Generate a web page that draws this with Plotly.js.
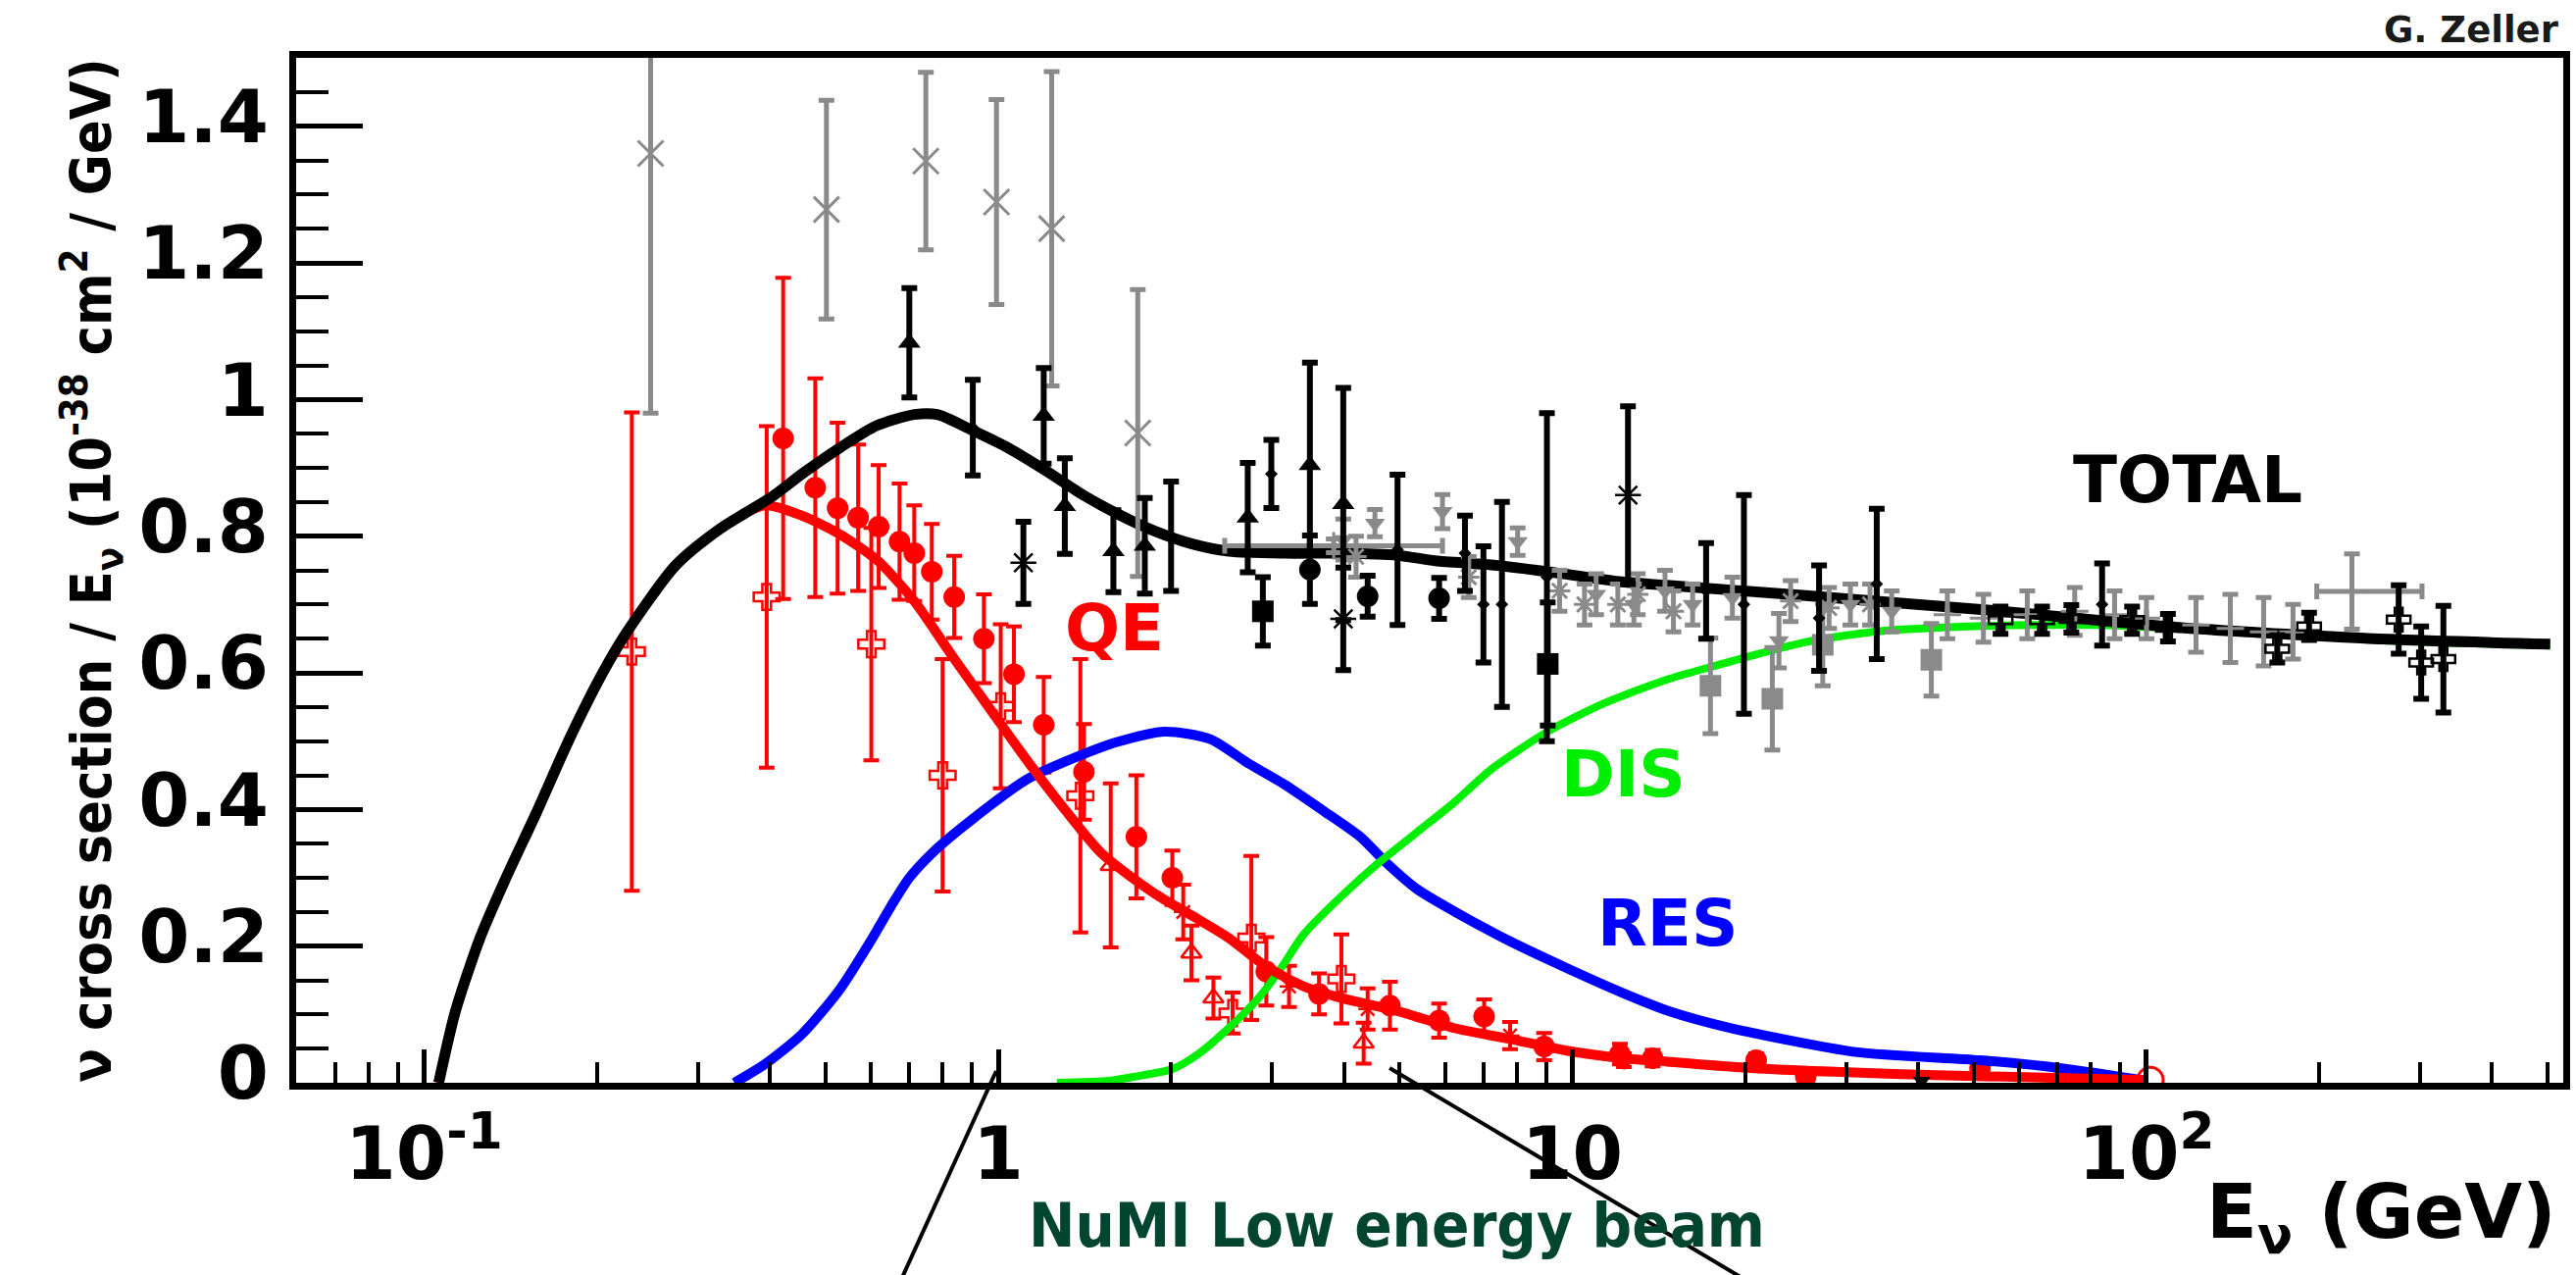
<!DOCTYPE html>
<html>
<head>
<meta charset="utf-8">
<script src="https://cdn.plot.ly/plotly-3.0.1.min.js"></script>
<style>html,body{margin:0;padding:0;background:#fff;}#chart{width:2627px;height:1300px;}</style>
</head>
<body>
<div id="chart"></div>
<script>
// ---------- model curves (E in GeV, sigma/E in 1e-38 cm^2/GeV) ----------
const totalE = [0.106,0.1133,0.125,0.138,0.157,0.179,0.204,0.224,0.274,0.328,0.404,0.455,0.529,0.615,0.714,0.783,0.896,1.042,1.21,1.407,1.636,1.866,2.17,2.52,3.16,3.96,4.96,5.77,7.23,9.06,12.2,14.6,25.5,54.1,115,264,505];
const totalY = [0,0.104,0.211,0.295,0.396,0.503,0.598,0.656,0.757,0.811,0.858,0.891,0.929,0.962,0.978,0.978,0.956,0.929,0.896,0.860,0.830,0.808,0.789,0.778,0.775,0.775,0.772,0.764,0.758,0.748,0.733,0.728,0.713,0.691,0.666,0.649,0.642];

const qeE = [0.106,0.1133,0.125,0.138,0.157,0.179,0.204,0.224,0.274,0.328,0.392,0.455,0.529,0.615,0.714,0.831,0.966,1.122,1.306,1.517,1.865,2.17,2.52,2.93,3.41,3.96,4.96,6.22,7.79,9.77,12.2,14.6,20,40,70,100];
const qeY = [0,0.104,0.211,0.295,0.396,0.503,0.598,0.656,0.757,0.811,0.845,0.830,0.803,0.765,0.705,0.625,0.548,0.472,0.400,0.335,0.278,0.245,0.212,0.170,0.141,0.124,0.105,0.080,0.064,0.047,0.036,0.031,0.022,0.012,0.007,0.004];

const resE = [0.347,0.392,0.455,0.529,0.597,0.650,0.700,0.771,0.896,1.122,1.38,1.60,1.95,2.34,2.72,3.16,3.67,4.27,4.74,5.35,6.22,7.79,9.77,12.2,14.6,18.9,31.1,51.3,71.6,99.8];
const resY = [0.0,0.027,0.071,0.136,0.205,0.258,0.300,0.338,0.384,0.444,0.478,0.498,0.514,0.503,0.468,0.436,0.399,0.360,0.322,0.284,0.251,0.207,0.168,0.132,0.106,0.080,0.045,0.033,0.021,0.003];

const disE = [1.265,1.56,1.73,2.01,2.23,2.52,2.84,3.11,3.41,3.96,4.60,5.35,6.22,7.23,9.06,11.4,14.6,17.5,25.5,34.4,46.5,62.9,84.9,127,264,505];
const disY = [0.0,0.003,0.009,0.020,0.042,0.080,0.124,0.168,0.218,0.273,0.322,0.366,0.410,0.459,0.514,0.556,0.590,0.609,0.645,0.661,0.667,0.670,0.670,0.662,0.647,0.640];

// ---------- QE data (red) ----------
const qeCircE   = [0.422,0.48,0.525,0.570,0.619,0.673,0.714,0.766,0.838,0.944,1.065,1.20,1.41,1.74,2.01,2.93,3.62,4.81,5.86,7.02,8.93,12.1,13.8,20.9,25.5,51.3,71.6];
const qeCircY   = [0.943,0.871,0.841,0.827,0.814,0.792,0.775,0.748,0.711,0.650,0.598,0.524,0.455,0.360,0.300,0.163,0.130,0.113,0.091,0.097,0.053,0.042,0.036,0.033,0.009,0.021,0.006];
const qeCircErr = [0.235,0.16,0.125,0.107,0.09,0.085,0.07,0.07,0.06,0.065,0.07,0.07,0.07,0.09,0.04,0.05,0.03,0.035,0.025,0.025,0.02,0.015,0.012,0.01,0.01,0.01,0.008];

const qeCrossE   = [0.23,0.395,0.601,0.80,1.01,1.39,2.76,3.96,2.56];
const qeCrossY   = [0.631,0.711,0.642,0.450,0.551,0.420,0.212,0.152,0.102];
const qeCrossErr = [0.35,0.25,0.17,0.17,0.12,0.20,0.12,0.065,0.03];

const qeTriE   = [1.57,2.17,2.37,4.33];
const qeTriY   = [0.318,0.190,0.124,0.058];
const qeTriErr = [0.12,0.04,0.03,0.03];

const qeStarE   = [2.10,3.21,4.40,7.79,12.3];
const qeStarY   = [0.250,0.141,0.108,0.069,0.033];
const qeStarErr = [0.04,0.03,0.03,0.02,0.01];

const qeRingE = [101.6];
const qeRingY = [0.004];

// ---------- total data, grey ----------
const grXE   = [0.248,0.502,0.748,0.993,1.239,1.75];
const grXY   = [1.360,1.278,1.349,1.289,1.250,0.951];
const grXErr = [0.38,0.16,0.13,0.15,0.23,0.21];

const grTriE   = [3.99,4.53,5.94,8.03,11.0,12.8,14.5,16.2,19.0,22.9,30.5,36.0];
const grTriY   = [0.795,0.819,0.836,0.792,0.715,0.700,0.720,0.700,0.710,0.647,0.700,0.690];
const grTriErr = [0.03,0.02,0.025,0.02,0.03,0.03,0.03,0.03,0.03,0.04,0.03,0.03];

const grSqE   = [17.4,22.3,27.3,42.2];
const grSqY   = [0.581,0.562,0.641,0.619];
const grSqErr = [0.07,0.075,0.06,0.053];

const grStarE   = [4.2,6.6,9.5,10.5,12.0,13.0,15.0,24.0,28.0,33.0];
const grStarY   = [0.770,0.740,0.720,0.700,0.700,0.715,0.690,0.705,0.695,0.700];
const grStarErr = [0.03,0.03,0.03,0.03,0.03,0.03,0.03,0.03,0.03,0.03];

const grCrossE    = [3.84,45,52,62,75,88,100,122,140,160,180,228];
const grCrossY    = [0.786,0.685,0.680,0.685,0.690,0.685,0.680,0.670,0.665,0.660,0.660,0.719];
const grCrossErr  = [0.01,0.035,0.035,0.035,0.035,0.035,0.03,0.04,0.05,0.05,0.04,0.055];
const grCrossXLo  = [1.36,0,0,0,0,0,0,0,0,0,0,30];
const grCrossXHi  = [2.1,0,0,0,0,0,0,0,0,0,0,74];

// ---------- total data, black ----------
const bkTriE   = [0.70,1.20,1.306,1.587,1.80,2.72,3.49,3.99];
const bkTriY   = [1.083,0.976,0.844,0.778,0.786,0.827,0.904,0.847];
const bkTriErr = [0.08,0.07,0.07,0.06,0.07,0.08,0.15,0.17];

const bkBarE   = [0.903,2.0,2.99,4.96,6.5,7.0,7.54,9.03,17.1,19.9,26.9,33.9,83.7];
const bkBarY   = [0.959,0.80,0.891,0.78,0.775,0.70,0.70,0.74,0.72,0.70,0.68,0.73,0.70];
const bkBarErr = [0.07,0.08,0.05,0.11,0.055,0.085,0.15,0.24,0.07,0.16,0.077,0.11,0.06];

const bkCircE   = [3.49,4.40,5.86];
const bkCircY   = [0.751,0.712,0.709];
const bkCircErr = [0.05,0.03,0.03];

const bkSqE   = [2.89,9.06];
const bkSqY   = [0.690,0.613];
const bkSqErr = [0.05,0.09];

const bkStarE   = [1.106,3.99,12.5];
const bkStarY   = [0.761,0.679,0.860];
const bkStarErr = [0.06,0.075,0.13];

const bkCrossE   = [55.7,65.8,74,94.4,109,169,192,275,301,329];
const bkCrossY   = [0.677,0.677,0.679,0.677,0.666,0.635,0.668,0.678,0.615,0.620];
const bkCrossErr = [0.02,0.02,0.02,0.02,0.02,0.02,0.02,0.05,0.053,0.078];

const bkDownE = [40.6];
const bkDownY = [0.003];

// ---------- axis tick labels and texts ----------
const xTickVals = [0.1,1,10,100];
const xTickText = ['10<sup>-1</sup>','1','10','10<sup>2</sup>'];
const curveLabels = ['TOTAL','QE','DIS','RES'];
const curveLabelE = [118,1.596,12.25,14.62];
const curveLabelY = [0.882,0.665,0.451,0.233];
const curveLabelColor = ['#000000','#ff0000','#00ee00','#0000ff'];

const RED = '#ff0000', GREY = '#8a8a8a', BLACK = '#000000';
const DJ = 'DejaVu Sans, Liberation Sans, Arial, sans-serif';

function errY(arr, color, thick, w) {
  return {type:'data', array:arr, visible:true, color:color, thickness:thick, width:w};
}
function pts(x, y, err, symbol, color, size, lw, extra) {
  const t = {
    type:'scatter', mode:'markers', x:x, y:y, showlegend:false, hoverinfo:'x+y',
    marker:{symbol:symbol, size:size, color:color, line:{color:color, width:lw}},
    error_y: err ? errY(err, color, color===RED?4:(color===GREY?5:6), 8) : undefined
  };
  return Object.assign(t, extra || {});
}
function curve(x, y, color, w) {
  return {type:'scatter', mode:'lines', x:x, y:y, showlegend:false, hoverinfo:'skip',
          line:{color:color, width:w, shape:'spline', smoothing:0.7}};
}

const traces = [
  // red QE data under the curves
  pts(qeCircE, qeCircY, qeCircErr, 'circle', RED, 22, 0),
  pts(qeCrossE, qeCrossY, qeCrossErr, 'cross-open', RED, 22, 2.5),
  pts(qeTriE, qeTriY, qeTriErr, 'triangle-up-open', RED, 18, 2.5),
  pts(qeStarE, qeStarY, qeStarErr, 'asterisk-open', RED, 16, 2.5),
  pts(qeRingE, qeRingY, null, 'circle-open', RED, 26, 3),
  // model curves
  curve(resE, resY, '#0000ff', 10),
  curve(disE, disY, '#00ee00', 8),
  curve(qeE, qeY, RED, 10),
  curve(totalE, totalY, BLACK, 11),
  // grey total data
  pts(grXE, grXY, grXErr, 'x-thin-open', GREY, 26, 3),
  pts(grTriE, grTriY, grTriErr, 'triangle-down', GREY, 18, 0),
  pts(grSqE, grSqY, grSqErr, 'square', GREY, 22, 0),
  pts(grStarE, grStarY, grStarErr, 'asterisk-open', GREY, 18, 3),
  pts(grCrossE, grCrossY, grCrossErr, 'cross-thin-open', GREY, 20, 3,
      {error_x:{type:'data', symmetric:false, array:grCrossXHi, arrayminus:grCrossXLo,
                visible:true, color:GREY, thickness:5, width:8}}),
  // black total data
  pts(bkBarE, bkBarY, bkBarErr, 'diamond', BLACK, 10, 0),
  pts(bkTriE, bkTriY, bkTriErr, 'triangle-up', BLACK, 20, 0),
  pts(bkCircE, bkCircY, bkCircErr, 'circle', BLACK, 22, 0),
  pts(bkSqE, bkSqY, bkSqErr, 'square', BLACK, 22, 0),
  pts(bkStarE, bkStarY, bkStarErr, 'asterisk-open', BLACK, 22, 2.5),
  pts(bkCrossE, bkCrossY, bkCrossErr, 'cross-open', BLACK, 20, 2.5),
  pts(bkDownE, bkDownY, null, 'triangle-down', BLACK, 16, 0)
];

const annotations = curveLabels.map((t, i) => ({
  text:t, x:Math.log10(curveLabelE[i]), y:curveLabelY[i], xref:'x', yref:'y',
  showarrow:false, xanchor:'center', yanchor:'middle',
  font:{family:DJ, size:66, weight:'bold', color:curveLabelColor[i]}
}));
annotations.push(
  {text:'G. Zeller', xref:'paper', yref:'paper', x:0.999, y:1.027, xanchor:'right', yanchor:'middle',
   showarrow:false, font:{family:DJ, size:37, weight:'bold', color:'#1a1a1a'}},
  {text:'E<sub>ν</sub> (GeV)', xref:'paper', yref:'paper', x:0.998, y:-0.131, xanchor:'right', yanchor:'middle',
   showarrow:false, font:{family:DJ, size:76, weight:'bold', color:BLACK}},
  {text:'NuMI Low energy beam', xref:'paper', yref:'paper', x:0.4855, y:-0.1397, xanchor:'center', yanchor:'middle',
   showarrow:false, font:{family:'DejaVu Sans Condensed, Liberation Sans Narrow, sans-serif', size:63, weight:'bold', color:'#004530'}}
);

const layout = {
  width:2627, height:1300,
  margin:{l:302, r:13, t:59, b:196, pad:0},
  paper_bgcolor:'#ffffff', plot_bgcolor:'#ffffff',
  showlegend:false,
  xaxis:{
    type:'log', range:[-1.223, 2.726], showgrid:false, zeroline:false,
    showline:true, linecolor:BLACK, linewidth:7, mirror:true,
    ticks:'inside', ticklen:34, tickwidth:5, tickcolor:BLACK,
    tickmode:'array', tickvals:xTickVals, ticktext:xTickText,
    tickfont:{family:DJ, size:74, weight:'bold', color:BLACK},
    ticklabelstandoff:2,
    minor:{dtick:'D1', ticks:'inside', ticklen:21, tickwidth:4, tickcolor:BLACK, showgrid:false}
  },
  yaxis:{
    range:[0, 1.5], showgrid:false, zeroline:false,
    showline:true, linecolor:BLACK, linewidth:7, mirror:true,
    ticks:'inside', ticklen:68, tickwidth:5, tickcolor:BLACK,
    tick0:0, dtick:0.2,
    tickfont:{family:DJ, size:75, weight:'bold', color:BLACK},
    ticklabelstandoff:6, ticklabelshift:-10,
    minor:{dtick:0.05, ticks:'inside', ticklen:33, tickwidth:4, tickcolor:BLACK, showgrid:false},
    title:{text:'ν cross section / E<sub>ν</sub> (10<sup>-38</sup> cm<sup>2</sup> / GeV)',
           standoff:12,
           font:{family:'DejaVu Sans Condensed, DejaVu Sans, sans-serif', size:57, weight:'bold', color:BLACK}}
  },
  shapes:[
    {type:'line', xref:'paper', yref:'paper', x0:0.3088, y0:0.0115, x1:0.2673, y1:-0.19, line:{color:BLACK, width:4}},
    {type:'line', xref:'paper', yref:'paper', x0:0.4823, y0:0.0144, x1:0.6375, y1:-0.19, line:{color:BLACK, width:4}}
  ],
  annotations:annotations
};

Plotly.newPlot('chart', traces, layout, {staticPlot:true, displayModeBar:false});
</script>
</body>
</html>
